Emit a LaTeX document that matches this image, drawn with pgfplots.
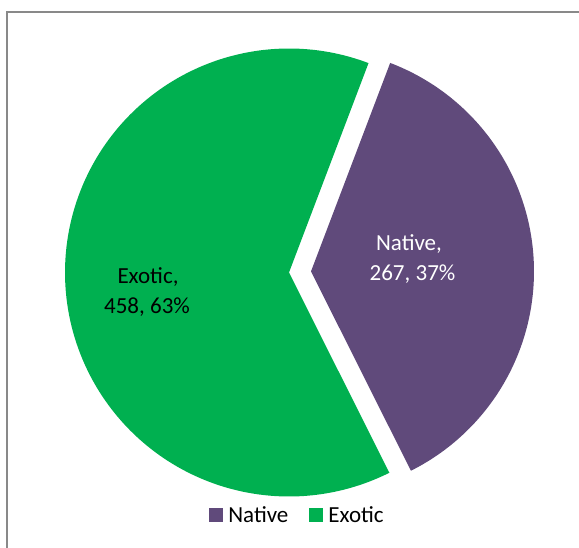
\documentclass[border=0pt]{standalone}
\usepackage{fontspec}
\setmainfont{Carlito}
\usepackage{pgfplots}
\pgfplotsset{compat=1.18}
\definecolor{nativec}{HTML}{604A7B}
\definecolor{exoticc}{HTML}{00B050}
\definecolor{framec}{HTML}{898989}
\def\nativeval{267}
\def\exoticval{458}
\pgfmathsetmacro{\total}{\nativeval+\exoticval}
\pgfmathsetmacro{\frac}{\nativeval/\total}
\pgfmathsetmacro{\startang}{20.8}
\pgfmathsetmacro{\midang}{\startang+360*\frac}
\pgfmathsetmacro{\endang}{\startang+360}
\begin{document}
\begin{tikzpicture}
\useasboundingbox (0,0) rectangle (579pt,548pt);
\begin{axis}[
  at={(0,0)}, anchor=south west,
  x=1pt, y=1pt, y dir=reverse,
  xmin=0, xmax=579, ymin=0, ymax=548,
  hide axis, clip=true,
  legend columns=2,
  legend style={draw=none, fill=none, at={(axis cs:299,515)}, anchor=center,
    font=\fontsize{23}{27}\selectfont,
    /tikz/every even column/.append style={column sep=16pt},
    nodes={inner xsep=5pt}},
  legend image code/.code={\fill[#1] (0pt,-7pt) rectangle (14pt,7pt);},
]
\draw[framec, line width=2pt] (axis cs:7,560) -- (axis cs:7,12.5) -- (axis cs:600,12.5);
% Native slice (exploded)
\addplot[fill=nativec, draw=none, domain=\startang:\midang, samples=150, variable=\t]
  ({311 + 223*sin(\t)}, {271.4 - 223*cos(\t)}) -- (axis cs:311,271.4) -- cycle;
\addlegendentry{Native}
% Exotic slice
\addplot[fill=exoticc, draw=none, domain=\midang:\endang, samples=200, variable=\t]
  ({289 + 224*sin(\t)}, {272.5 - 224*cos(\t)}) -- (axis cs:289,272.5) -- cycle;
\addlegendentry{Exotic}
\node[anchor=base, text=white, font=\fontsize{23}{27}\selectfont, inner sep=0pt] at (axis cs:409,251) {Native,};
\node[anchor=base, text=white, font=\fontsize{23}{27}\selectfont, inner sep=0pt] at (axis cs:412.5,281) {267, 37\%};
\node[anchor=base, text=black, font=\fontsize{23}{27}\selectfont, inner sep=0pt] at (axis cs:148,283.3) {Exotic,};
\node[anchor=base, text=black, font=\fontsize{23}{27}\selectfont, inner sep=0pt] at (axis cs:147,313.3) {458, 63\%};
\end{axis}
\end{tikzpicture}
\end{document}
